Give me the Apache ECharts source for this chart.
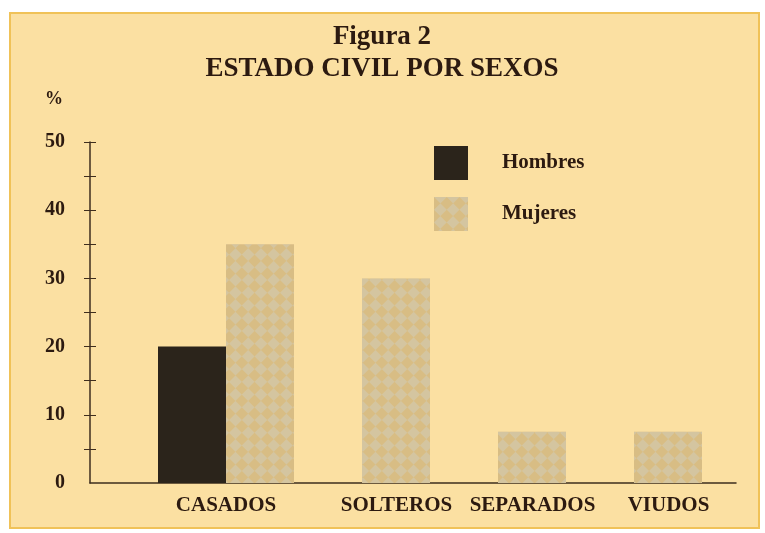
<!DOCTYPE html>
<html>
<head>
<meta charset="utf-8">
<script src="https://cdn.jsdelivr.net/npm/echarts@6/dist/echarts.min.js"></script>
<style>
    html, body { margin: 0; padding: 0; background: #ffffff; }
    #main { width: 765px; height: 533px; }
</style>
</head>
<body>
<div id="main"></div>
<script>
// datos
var categories = ['CASADOS', 'SOLTEROS', 'SEPARADOS', 'VIUDOS'];
var hombres = [20, 0, 0, 0];
var mujeres = [35, 30, 7.5, 7.5];
var yLabels = [0, 10, 20, 30, 40, 50];
var yTicks = [5, 10, 15, 20, 25, 30, 35, 40, 45, 50];

var ink = '#2c1a10';
var serif = 'Liberation Serif';

var myChart = echarts.init(document.getElementById('main'));

var option = {
    backgroundColor: '#ffffff',
    graphic: [{
        type: 'rect',
        z: -10,
        shape: { x: 10, y: 13, width: 749, height: 515 },
        style: { fill: '#fbe0a2', stroke: '#f0c258', lineWidth: 2 }
    }],
    title: {
        text: 'Figura 2\nESTADO CIVIL POR SEXOS',
        left: 377,
        top: 16,
        textAlign: 'center',
        textStyle: {
            fontFamily: serif, fontWeight: 'bold', fontSize: 27,
            lineHeight: 32, color: ink
        }
    },
    legend: {
        orient: 'vertical',
        left: 429,
        top: 141,
        itemWidth: 34,
        itemHeight: 34,
        itemGap: 17,
        icon: 'rect',
        data: ['Hombres', 'Mujeres'],
        textStyle: {
            fontFamily: serif, fontWeight: 'bold', fontSize: 21,
            color: ink, padding: [0, 0, 0, 29]
        }
    },
    grid: [
        { left: 90, right: 29, top: 142, bottom: 50 },
        { left: 158, right: 63, top: 142, bottom: 50 }
    ],
    xAxis: [
        {
            gridIndex: 0, type: 'value', min: 0, max: 1,
            axisLine: { lineStyle: { color: '#3e2e1e', width: 1.5 } },
            axisTick: { show: false },
            axisLabel: { show: false },
            splitLine: { show: false }
        },
        {
            gridIndex: 1, type: 'category', data: categories,
            axisLine: { show: false },
            axisTick: { show: false },
            axisLabel: {
                margin: 12,
                formatter: function (v, i) {
                    // el original desplaza las etiquetas hacia la barra de mujeres
                    return i === 0 ? '{n|' + v + '}' : '{r|' + v + '}';
                },
                rich: {
                    n: { fontFamily: serif, fontWeight: 'bold', fontSize: 21, color: ink },
                    r: { fontFamily: serif, fontWeight: 'bold', fontSize: 21, color: ink, padding: [0, 0, 0, 69] }
                }
            }
        }
    ],
    yAxis: [
        {
            gridIndex: 0, type: 'value', position: 'left', min: 0, max: 50, interval: 10,
            name: '%',
            nameLocation: 'end',
            nameGap: 34,
            nameTextStyle: {
                fontFamily: serif, fontWeight: 'bold', fontSize: 18,
                color: ink, padding: [0, 72, 0, 0]
            },
            axisLine: { show: true, lineStyle: { color: '#3e2e1e', width: 1.5 } },
            axisTick: { show: true, length: 6, customValues: yTicks, lineStyle: { color: '#3e2e1e' } },
            axisLabel: {
                customValues: yLabels,
                margin: 25,
                fontFamily: serif, fontWeight: 'bold', fontSize: 20,
                color: ink, padding: [0, 0, 12, 0]
            },
            splitLine: { show: false }
        },
        {
            gridIndex: 0, type: 'value', position: 'left', offset: 0, min: 0, max: 50, interval: 10,
            axisLine: { show: false },
            axisTick: { show: true, inside: true, length: 6, customValues: yTicks, lineStyle: { color: '#3e2e1e' } },
            axisLabel: { show: false },
            splitLine: { show: false }
        },
        {
            gridIndex: 1, type: 'value', min: 0, max: 50, show: false
        }
    ],
    series: [
        {
            name: 'Hombres',
            type: 'bar',
            xAxisIndex: 1,
            yAxisIndex: 2,
            barGap: '0%',
            barCategoryGap: '0%',
            itemStyle: { color: '#2b241b' },
            data: hombres
        },
        {
            name: 'Mujeres',
            type: 'bar',
            xAxisIndex: 1,
            yAxisIndex: 2,
            barGap: '0%',
            barCategoryGap: '0%',
            itemStyle: {
                color: '#d8bd84',
                decal: {
                    symbol: 'rect',
                    symbolSize: 1,
                    color: 'rgba(210,204,182,0.55)',
                    dashArrayX: [[9, 9], [0, 9, 9, 0]],
                    dashArrayY: [9, 0],
                    rotation: Math.PI / 4
                }
            },
            data: mujeres
        }
    ]
};

myChart.setOption(option);
</script>
</body>
</html>
